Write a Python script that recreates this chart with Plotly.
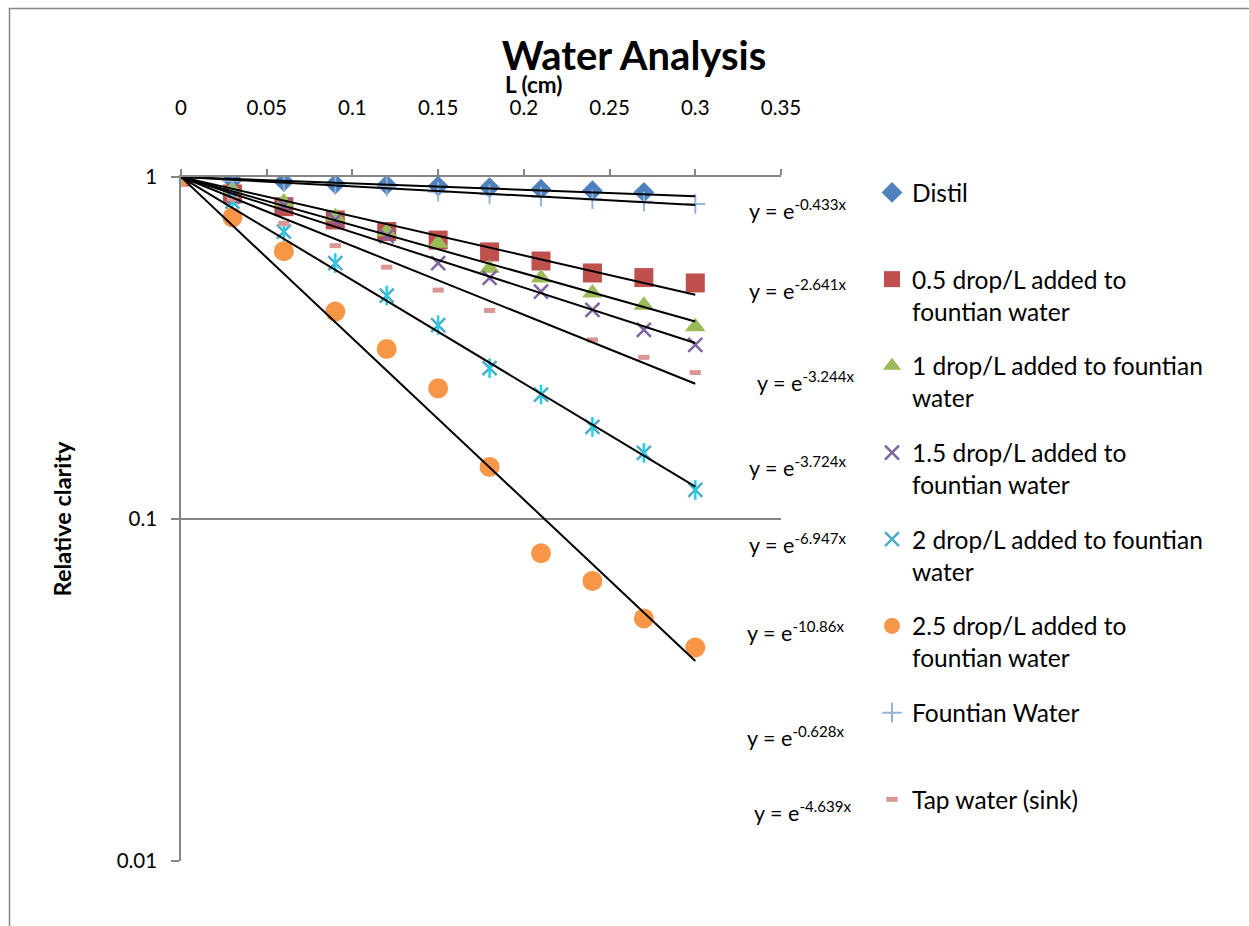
import math
import plotly.graph_objects as go

# ---------------- data ----------------
L_cm = [0, 0.03, 0.06, 0.09, 0.12, 0.15, 0.18, 0.21, 0.24, 0.27, 0.30]

distil = [1, 0.980, 0.969, 0.954, 0.948, 0.941, 0.931, 0.921, 0.912, 0.902, None]
drop_05 = [1, 0.892, 0.819, 0.749, 0.693, 0.654, 0.604, 0.568, 0.524, 0.508, 0.490]
drop_1 = [1, 0.920, 0.845, 0.765, 0.692, 0.640, 0.541, 0.507, 0.458, 0.422, 0.365]
drop_15 = [1, 0.876, 0.828, 0.749, 0.672, 0.560, 0.507, 0.462, 0.409, 0.357, 0.323]
drop_2 = [1, 0.847, 0.692, 0.560, 0.450, 0.369, 0.276, 0.231, 0.186, 0.156, 0.1216]
drop_25 = [1, 0.762, 0.607, 0.404, 0.314, 0.241, 0.142, 0.0794, 0.0659, 0.0512, 0.0421]
fountain = [1, 0.973, 0.967, 0.958, 0.937, 0.906, 0.890, 0.876, 0.861, 0.847, 0.834]
tap = [1, 0.862, 0.732, 0.630, 0.545, 0.467, 0.407, None, 0.334, 0.297, 0.268]

series_names = [
    "Distil",
    "0.5 drop/L added to<br>fountian water",
    "1 drop/L added to fountian<br>water",
    "1.5 drop/L added to<br>fountian water",
    "2 drop/L added to fountian<br>water",
    "2.5 drop/L added to<br>fountian water",
    "Fountian Water",
    "Tap water (sink)",
]
series_values = [distil, drop_05, drop_1, drop_15, drop_2, drop_25, fountain, tap]

# exponential trend-line coefficients (y = e^(-k x)) as shown in the chart
trend_k = [0.433, 2.641, 3.244, 3.724, 6.947, 10.86, 0.628, 4.639]
trend_labels = ["-0.433x", "-2.641x", "-3.244x", "-3.724x", "-6.947x", "-10.86x", "-0.628x", "-4.639x"]
trend_x = [0, 0.30]

x_ticks = [0, 0.05, 0.1, 0.15, 0.2, 0.25, 0.3, 0.35]
y_ticks = [0.01, 0.1, 1]
y_tick_text = ["0.01", "0.1", "1"]

# ---------------- styles ----------------
FONT = "Lato"
AXIS = "#868686"
W, H = 1249, 926
ML, MR, MT, MB = 181, 468, 177, 65
PW, PH = W - ML - MR, H - MT - MB


def px(xp):
    return (xp - ML) / PW


def py(yp):
    return (H - MB - yp) / PH


styles = [
    dict(symbol="diamond", size=16, color="#4F81BD", line=dict(width=0)),
    dict(symbol="square", size=19, color="#C0504D", line=dict(width=0)),
    dict(symbol="triangle-up", size=18, color="#9BBB59", line=dict(width=0)),
    dict(symbol="x-thin-open", size=14, color="#8064A2", line=dict(width=2.5, color="#8064A2")),
    dict(symbol="x-thin-open", size=14, color="#4BACC6", line=dict(width=2.5, color="#4BACC6")),
    dict(symbol="circle", size=20, color="#F79646", line=dict(width=0)),
    dict(symbol="cross-thin-open", size=14, color="#95B3D7", line=dict(width=2, color="#95B3D7")),
    dict(symbol="line-ew-open", size=8, color="#D99694", line=dict(width=5, color="#D99694")),
]

fig = go.Figure()

for i, (name, vals, st) in enumerate(zip(series_names, series_values, styles)):
    label = name if "<br>" in name else name + "<br>&nbsp;"
    fig.add_trace(go.Scatter(
        x=L_cm, y=vals, mode="markers", name=label,
        legendgroup="g%d" % i, marker=st,
    ))
    if i == 4:  # asterisk: add vertical stroke to the x marker
        fig.add_trace(go.Scatter(
            x=L_cm, y=vals, mode="markers", showlegend=False,
            legendgroup="g%d" % i,
            marker=dict(symbol="line-ns-open", size=14,
                        line=dict(width=2.5, color="#4BACC6")),
        ))

for k in trend_k:
    fig.add_trace(go.Scatter(
        x=trend_x, y=[math.exp(-k * xv) for xv in trend_x],
        mode="lines", line=dict(color="black", width=2),
        showlegend=False, hoverinfo="skip",
    ))

# equation labels (pixel positions of the text block left/center)
eq_pos = [(747, 213), (747, 293), (755, 385), (747, 470),
          (747, 547), (745, 635), (745, 740), (752, 815)]
annotations = []
for lab, (xp, yp) in zip(trend_labels, eq_pos):
    annotations.append(dict(
        text="y = e<sup>%s</sup>" % lab,
        x=px(xp), y=py(yp - 4),
        xref="paper", yref="paper", xanchor="left", yanchor="middle",
        showarrow=False, font=dict(family=FONT, size=21.5, color="black"),
    ))

annotations.append(dict(
    text="<b>L (cm)</b>", x=px(533), y=py(85), xref="paper", yref="paper",
    xanchor="center", yanchor="middle", showarrow=False,
    font=dict(family=FONT, size=22.5, color="black"),
))

fig.update_layout(
    width=W, height=H,
    margin=dict(l=ML, r=MR, t=MT, b=MB, pad=0),
    paper_bgcolor="white", plot_bgcolor="white",
    font=dict(family=FONT, color="black"),
    title=dict(text="<b>Water Analysis</b>", x=634 / W, xanchor="center",
               xref="container", y=1 - 56 / H, yanchor="middle", yref="container",
               font=dict(family=FONT, size=40, color="black")),
    xaxis=dict(
        side="top", range=[0, 0.35], tickvals=x_ticks,
        showline=True, linecolor=AXIS, linewidth=1.5,
        ticks="outside", ticklen=6, tickcolor=AXIS, tickwidth=1.5,
        showgrid=False, zeroline=False,
        tickfont=dict(family=FONT, size=20.5, color="black"),
        ticklabelstandoff=46,
    ),
    yaxis=dict(
        type="log", range=[-2, 0], tickvals=y_ticks, ticktext=y_tick_text,
        showline=True, linecolor=AXIS, linewidth=1.5,
        ticks="outside", ticklen=8, tickcolor=AXIS, tickwidth=1.5,
        showgrid=True, gridcolor=AXIS, gridwidth=1.5, zeroline=False,
        tickfont=dict(family=FONT, size=20.5, color="black"),
        ticklabelstandoff=10,
        title=dict(text="<b>Relative clarity</b>", standoff=38,
                   font=dict(family=FONT, size=23.5, color="black")),
    ),
    legend=dict(
        x=px(872), y=py(170), xanchor="left", yanchor="top",
        font=dict(family=FONT, size=24.5, color="black"),
        valign="top", tracegroupgap=20, traceorder="grouped",
        bgcolor="rgba(0,0,0,0)", borderwidth=0, maxheight=900,
    ),
    annotations=annotations,
    shapes=[dict(type="rect", xref="paper", yref="paper",
                 x0=px(9.5), x1=px(1300), y0=py(980), y1=py(8.5),
                 line=dict(color=AXIS, width=1.5), fillcolor="rgba(0,0,0,0)",
                 layer="below")],
)

fig.write_html("out.html", config={"displayModeBar": False},
               post_script="document.body.style.margin='0';")
